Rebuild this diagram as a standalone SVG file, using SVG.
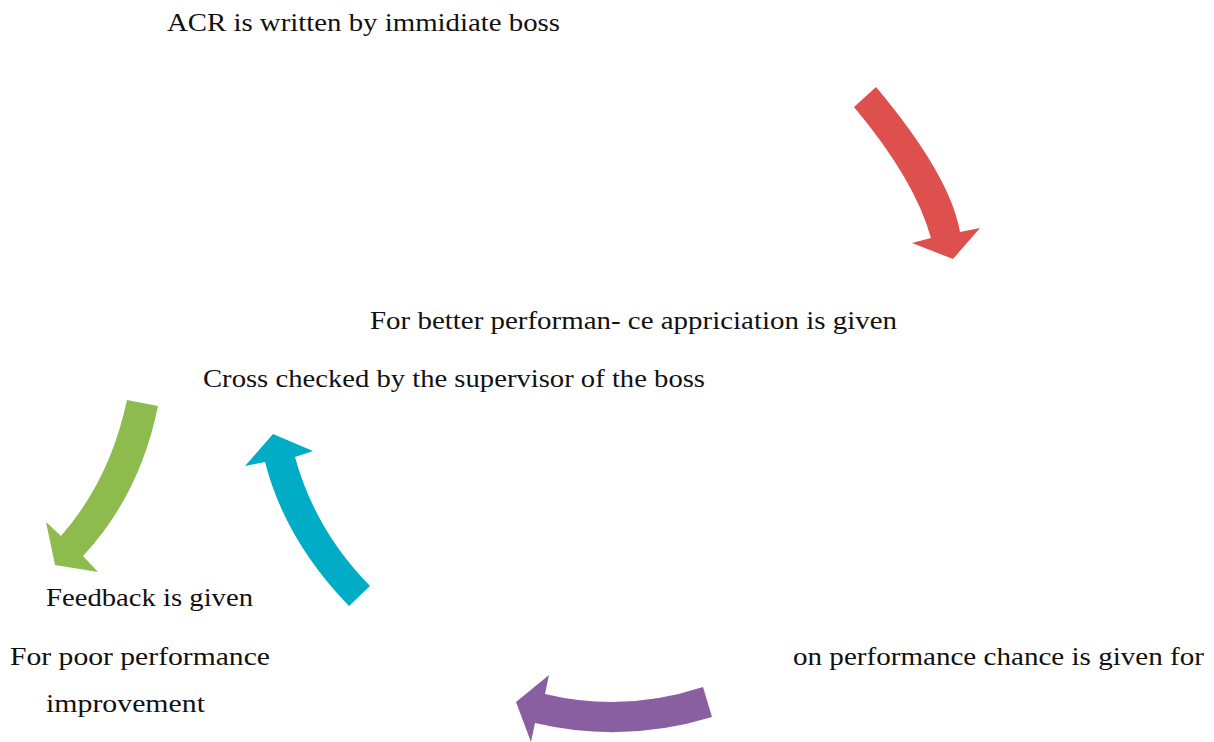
<svg xmlns="http://www.w3.org/2000/svg" width="1214" height="742" viewBox="0 0 1214 742">
  <style>
    .lbl { font-family: "Liberation Serif", "DejaVu Serif", serif; font-size: 26px; fill: #111; }
  </style>
  <rect width="1214" height="742" fill="#ffffff"/>

  <!-- Curved cycle arrows -->
  <g id="connectors">
    <path id="arrow-red" fill="#DE504E" d="M854,107 L876,87 Q950,175 960,232 L980,228 L953,259 L912,243 L931,238 Q915,180 854,107 Z"/>
    <path id="arrow-green" fill="#8DBB4E" d="M127,400 L158,406 Q140,495 83,556 L98,572 L55,565 L46,522 L61,536 Q110,480 127,400 Z"/>
    <path id="arrow-cyan" fill="#00ACC6" d="M349,606 L370,586 Q315,530 295,457 L313,451 L273,434 L245,466 L265,462 Q285,540 349,606 Z"/>
    <path id="arrow-purple" fill="#8A5FA2" d="M703,687 L712,717 Q624,744 535,723 L531,742 L516,702 L549,675 L545,694 Q624,713 703,687 Z"/>
  </g>

  <g id="node-acr">
    <text class="lbl" x="167" y="31" textLength="393" lengthAdjust="spacingAndGlyphs">ACR is written by immidiate boss</text>
  </g>
  <g id="node-appreciation">
    <text class="lbl" x="370" y="329" textLength="527" lengthAdjust="spacingAndGlyphs">For better performan- ce appriciation is given</text>
  </g>
  <g id="node-crosscheck">
    <text class="lbl" x="203" y="387" textLength="502" lengthAdjust="spacingAndGlyphs">Cross checked by the supervisor of the boss</text>
  </g>
  <g id="node-feedback">
    <text class="lbl" x="46" y="606" textLength="207" lengthAdjust="spacingAndGlyphs">Feedback is given</text>
  </g>
  <g id="node-poor">
    <text class="lbl" x="10" y="665" textLength="260" lengthAdjust="spacingAndGlyphs">For poor performance</text>
    <text class="lbl" x="46" y="712" textLength="159" lengthAdjust="spacingAndGlyphs">improvement</text>
  </g>
  <g id="node-chance">
    <text class="lbl" x="793" y="665" textLength="411" lengthAdjust="spacingAndGlyphs">on performance chance is given for</text>
  </g>
</svg>
